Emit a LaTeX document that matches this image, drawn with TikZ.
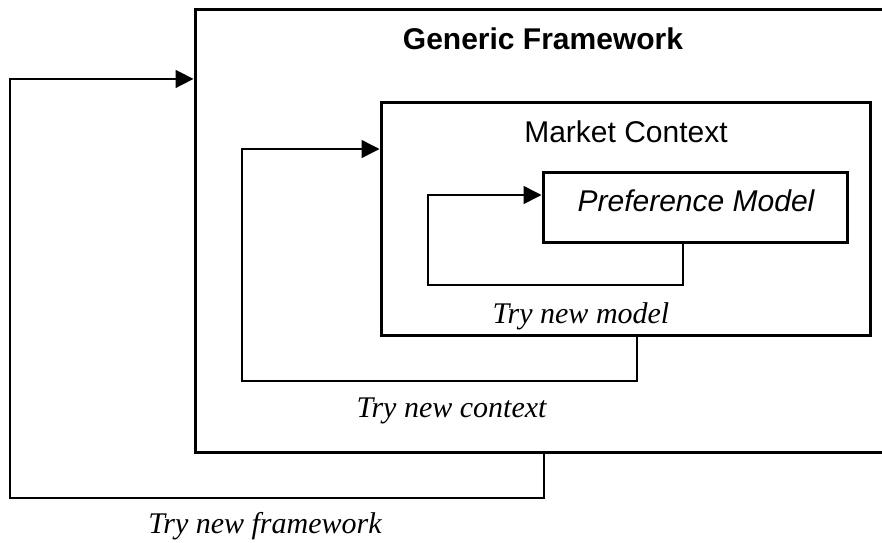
\documentclass[tikz,border=0pt]{standalone}
\usepackage{fontspec}
\setmainfont{Liberation Serif}
\setsansfont{Liberation Sans}
\usetikzlibrary{arrows.meta}

\begin{document}
\begin{tikzpicture}[x=0.5pt, y=-0.5pt,
    box/.style={draw, line width=1.5pt, inner sep=0pt},
    boxtext/.style={anchor=base, font=\sffamily\fontsize{15}{18}\selectfont},
    tryline/.style={line width=0.75pt, -{Triangle[length=9pt,width=9pt]}},
    trytext/.style={anchor=base, font=\itshape\fontsize{15}{18}\selectfont}]

  \clip (0,0) rectangle (882,542);

  % the three nested boxes
  \node[box, minimum width=348pt, minimum height=221.25pt] (frame) at (543,230.75) {};
  \node[box, minimum width=244.5pt, minimum height=116.5pt] (context) at (625.5,218.5) {};
  \node[box, minimum width=152pt, minimum height=35pt] (model) at (695,207) {};

  \node[boxtext, font=\sffamily\bfseries\fontsize{15}{18}\selectfont] (frametitle) at (543,49) {Generic Framework};
  \node[boxtext] (contexttitle) at (626,142) {Market Context};
  \node[boxtext, font=\sffamily\itshape\fontsize{15}{18}\selectfont] (modeltitle) at (696,211) {Preference Model};

  % feedback loops
  \coordinate (modelcorner) at (428,285);
  \coordinate (contextcorner) at (242,381);
  \coordinate (framecorner) at (10,498);

  \draw[tryline] ([xshift=-6pt]model.south) |- (modelcorner) |- ([yshift=6pt]model.west);
  \draw[tryline] ([xshift=5.75pt]context.south) |- (contextcorner) |- ([yshift=34.75pt]context.west);
  \draw[tryline] ([xshift=0.5pt]frame.south) |- (framecorner) |- ([yshift=75.9pt]frame.west);

  \node[trytext] (trymodel) at (581,323) {Try new model};
  \node[trytext] (trycontext) at (451.5,417) {Try new context};
  \node[trytext] (tryframe) at (265,533) {Try new framework};

\end{tikzpicture}
\end{document}
